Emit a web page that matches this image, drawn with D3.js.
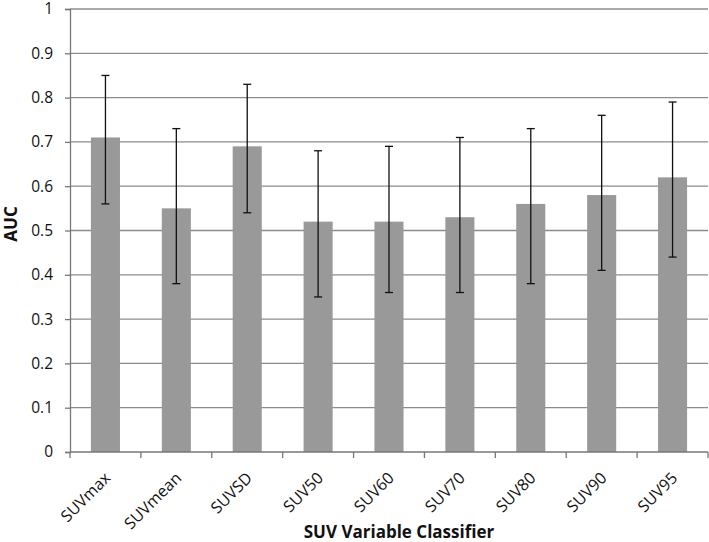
<!DOCTYPE html>
<html><head><meta charset="utf-8">
<script src="https://cdn.jsdelivr.net/npm/d3@7"></script>
<style>body{margin:0;background:#fff}svg{display:block}text{font-family:"Open Sans",sans-serif}</style>
</head><body><svg id="c" width="709" height="542"></svg>
<script>
const categories = ["SUVmax","SUVmean","SUVSD","SUV50","SUV60","SUV70","SUV80","SUV90","SUV95"];
const auc   = [0.71,0.55,0.69,0.52,0.52,0.53,0.56,0.58,0.62];
const lower = [0.56,0.38,0.54,0.35,0.36,0.36,0.38,0.41,0.44];
const upper = [0.85,0.73,0.83,0.68,0.69,0.71,0.73,0.76,0.79];
const yTicks = [0,0.1,0.2,0.3,0.4,0.5,0.6,0.7,0.8,0.9,1];
const yTickLabels = ["0","0.1","0.2","0.3","0.4","0.5","0.6","0.7","0.8","0.9","1"];

const svg = d3.select("#c");
const x0 = 70, x1 = 708, yTop = 9, yBot = 452;
const x = d3.scaleBand().domain(categories).range([x0, x1]).paddingInner(0.59).paddingOuter(0.295);
const y = d3.scaleLinear().domain([0,1]).range([yBot, yTop]);

// gridlines
svg.append("g").selectAll("line").data(yTicks.slice(1)).join("line")
  .attr("x1", x0).attr("x2", x1).attr("y1", d=>y(d)).attr("y2", d=>y(d))
  .attr("stroke", "#8c8c8c").attr("stroke-width", 1.3);

// bars
svg.append("g").selectAll("rect").data(categories).join("rect")
  .attr("x", d=>x(d)).attr("width", x.bandwidth())
  .attr("y", (d,i)=>y(auc[i])).attr("height", (d,i)=>yBot - y(auc[i]))
  .attr("fill", "#999999");

// error bars
const eb = svg.append("g").attr("stroke", "#111").attr("stroke-width", 1.3);
categories.forEach((c,i)=>{
  const cx = x(c) + x.bandwidth()/2;
  eb.append("line").attr("x1", cx).attr("x2", cx).attr("y1", y(lower[i])).attr("y2", y(upper[i]));
  eb.append("line").attr("x1", cx-4).attr("x2", cx+4).attr("y1", y(lower[i])).attr("y2", y(lower[i]));
  eb.append("line").attr("x1", cx-4).attr("x2", cx+4).attr("y1", y(upper[i])).attr("y2", y(upper[i]));
});

// y axis
const yAxis = d3.axisLeft(y).tickValues(yTicks).tickFormat((d,i)=>yTickLabels[i]).tickSize(5).tickPadding(12);
const gy = svg.append("g").attr("transform", `translate(${x0},0)`).call(yAxis);
gy.select(".domain").attr("stroke", "#777").attr("stroke-width", 1.3);
gy.selectAll(".tick line").attr("stroke", "#777").attr("stroke-width", 1.3);
gy.selectAll("text").attr("font-size", 15.5).attr("fill", "#111").attr("font-family", "Open Sans");

// x axis baseline and ticks at band boundaries
svg.append("line").attr("x1", x0).attr("x2", x1).attr("y1", yBot).attr("y2", yBot)
  .attr("stroke", "#777").attr("stroke-width", 1.3);
const bounds = d3.range(categories.length + 1).map(i => x0 + i * (x1 - x0) / categories.length);
svg.append("g").selectAll("line").data(bounds).join("line")
  .attr("x1", d=>d).attr("x2", d=>d).attr("y1", yBot).attr("y2", yBot+6)
  .attr("stroke", "#777").attr("stroke-width", 1.3);

// x labels
svg.append("g").selectAll("text").data(categories).join("text")
  .attr("transform", d=>`translate(${x(d)+x.bandwidth()/2+6},${yBot+27}) rotate(-45)`)
  .attr("text-anchor", "end").attr("font-size", 16).attr("fill", "#111")
  .text(d=>d);

// axis titles
svg.append("text").attr("x", 399).attr("y", 538).attr("text-anchor", "middle")
  .attr("font-size", 17).attr("font-weight", "bold").attr("fill", "#111").text("SUV Variable Classifier");
svg.append("text").attr("transform", "translate(17,224) rotate(-90)").attr("text-anchor", "middle")
  .attr("font-size", 17).attr("font-weight", "bold").attr("fill", "#111").text("AUC");
</script></body></html>
